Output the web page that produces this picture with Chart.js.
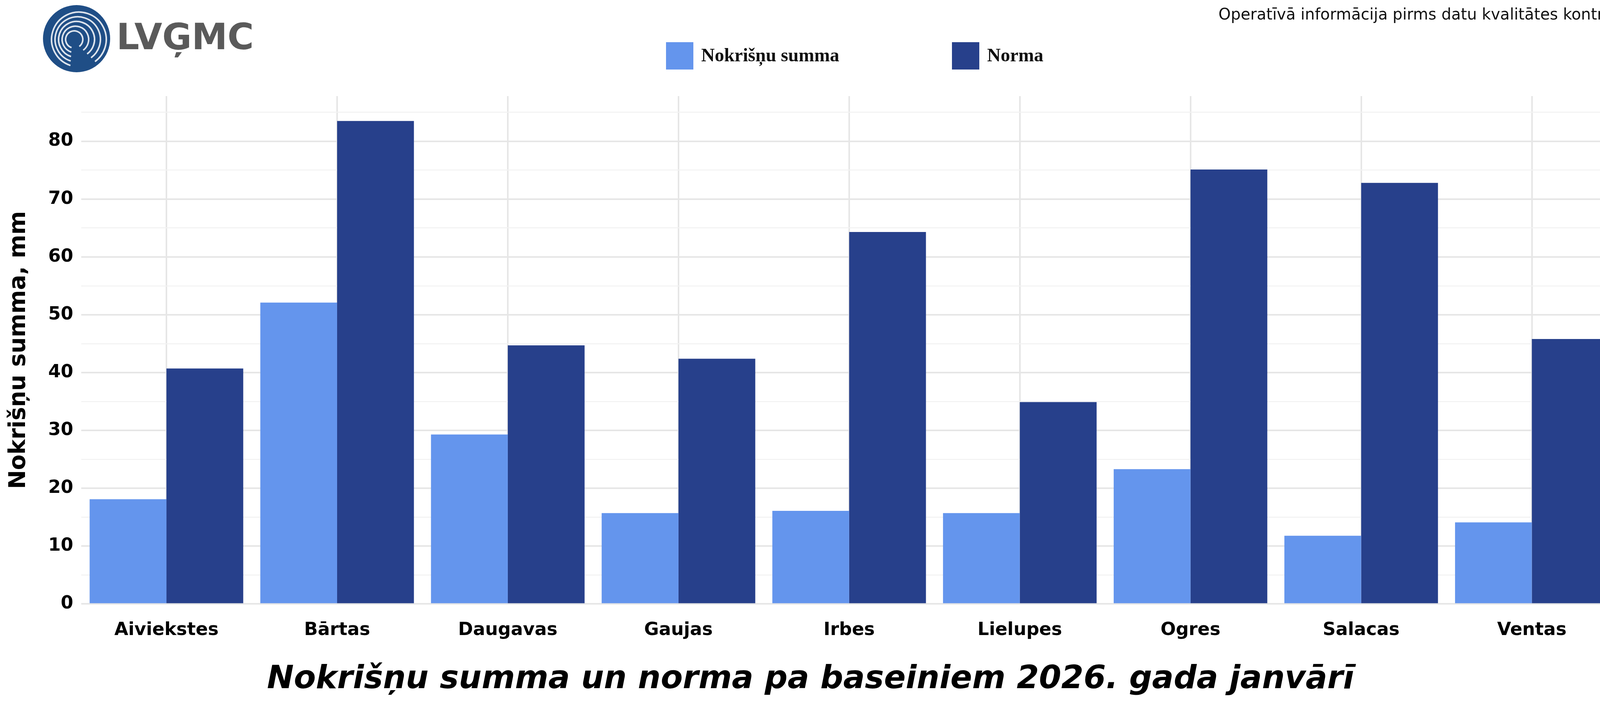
<!DOCTYPE html>
<html><head><meta charset="utf-8">
<script src="https://cdn.jsdelivr.net/npm/chart.js@4/dist/chart.umd.min.js"></script>
<style>html,body{margin:0;padding:0;background:#fff;overflow:hidden}#w{width:4200px;height:1800px;position:relative}canvas{display:block;width:4200px;height:1800px}</style>
</head><body><div id="w"><canvas id="c" width="4200" height="1800"></canvas></div>
<script>
const categories=["Aiviekstes","Bārtas","Daugavas","Gaujas","Irbes","Lielupes","Ogres","Salacas","Ventas"];
const sumValues=[18.1,52.1,29.3,15.7,16.1,15.7,23.3,11.8,14.1];
const normValues=[40.7,83.5,44.7,42.4,64.3,34.9,75.1,72.8,45.8];
const seriesNames=["Nokrišņu summa","Norma"];
const yTicks=[0,10,20,30,40,50,60,70,80];
const titleText="Nokrišņu summa un norma pa baseiniem 2026. gada janvārī";
const yTitle="Nokrišņu summa, mm";
const noteText="Operatīvā informācija pirms datu kvalitātes kontroles";

const deco={id:'deco',afterDraw(ch){const c=ch.ctx;c.save();
 const cx=196,cy=99,r=86;c.fillStyle='#1f4e86';c.beginPath();c.arc(cx,cy,r,0,Math.PI*2);c.fill();
 c.strokeStyle='rgba(255,255,255,0.85)';c.lineWidth=4;
 for(let i=0;i<5;i++){c.beginPath();c.arc(cx-6+i*3,cy+2,22+i*12,Math.PI*0.6,Math.PI*2.3);c.stroke();}
 c.fillStyle='#5a5a5a';c.font='bold 92px "DejaVu Sans"';c.textBaseline='middle';c.fillText('LVĢMC',298,102);
 c.fillStyle='#111';c.font='40px "DejaVu Sans"';c.textAlign='right';c.fillText(noteText,4185,40);
 const cols=['#6495ed','#27408b'];const xs=[1705,2437];c.textAlign='left';c.font='bold 48px "Liberation Serif"';
 seriesNames.forEach((n,i)=>{c.fillStyle=cols[i];c.fillRect(xs[i],108,70,70);c.fillStyle='#111';c.fillText(n,xs[i]+90,145);});
 c.restore();}};

new Chart(document.getElementById('c'),{type:'bar',
 data:{labels:categories,datasets:[
  {label:seriesNames[0],data:sumValues,backgroundColor:'#6495ed'},
  {label:seriesNames[1],data:normValues,backgroundColor:'#27408b'}]},
 options:{responsive:false,animation:false,devicePixelRatio:1,
  layout:{padding:{top:246,right:60,left:10,bottom:10}},
  plugins:{legend:{display:false},tooltip:{enabled:false},
   title:{display:true,position:'bottom',text:titleText,color:'#000',font:{family:'DejaVu Sans',size:82,style:'italic',weight:'bold'},padding:{top:10,bottom:0}}},
  datasets:{bar:{categoryPercentage:0.9,barPercentage:1.0}},
  scales:{
   x:{grid:{color:'#e6e6e6',lineWidth:4,offset:false,drawTicks:false},border:{display:false},
      ticks:{color:'#000',font:{family:'DejaVu Sans',size:46,weight:'bold'},padding:40}},
   y:{min:0,max:87.8,afterBuildTicks(a){a.ticks=[];for(let v=0;v<=85;v+=5)a.ticks.push({value:v});},
      grid:{color:ctx=>ctx.tick&&ctx.tick.value%10===0?'#e6e6e6':'#f2f2f2',lineWidth:ctx=>ctx.tick&&ctx.tick.value%10===0?4:2.5,drawTicks:false},
      border:{display:false},
      ticks:{color:'#000',font:{family:'DejaVu Sans',size:46,weight:'bold'},padding:20,callback:v=>yTicks.includes(v)?v:''},
      title:{display:true,text:yTitle,color:'#000',font:{family:'DejaVu Sans',size:58,weight:'bold'},padding:{bottom:20}}}}},
 plugins:[deco]});
</script></body></html>
